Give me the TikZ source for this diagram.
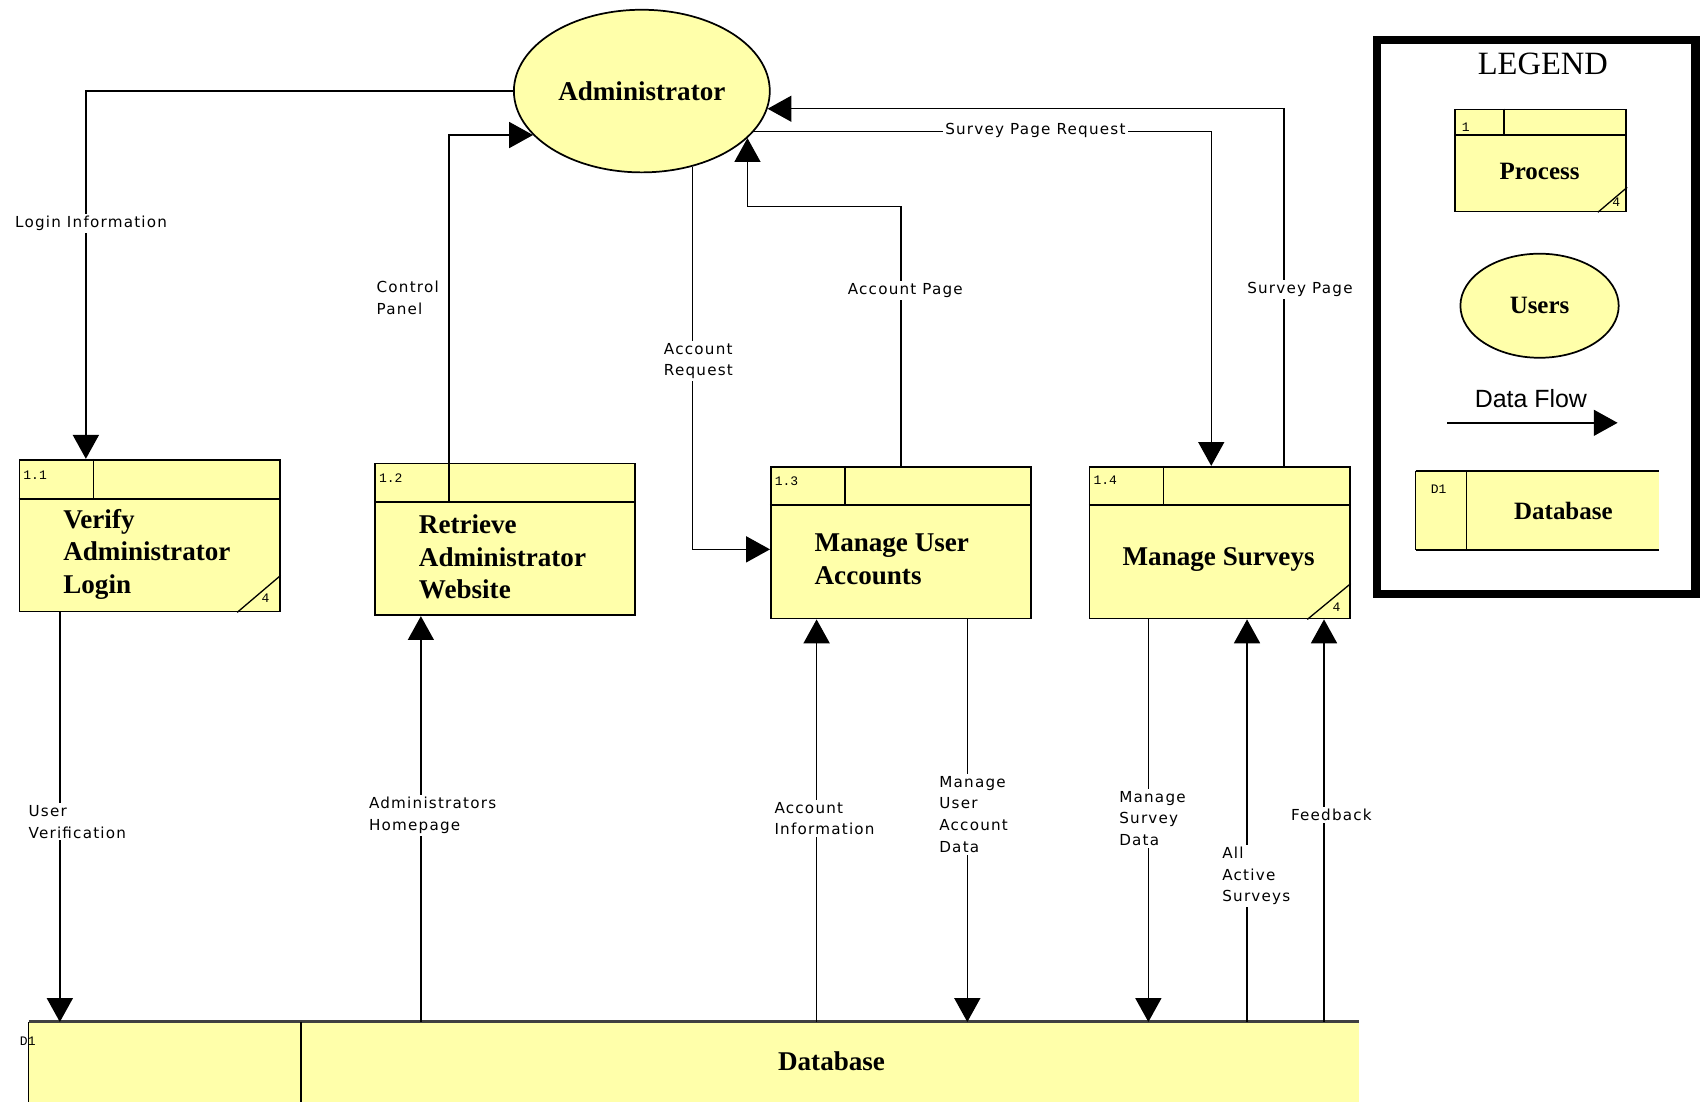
\documentclass[tikz,border=0pt]{standalone}
\usepackage{fontspec}
\setmainfont{Liberation Serif}
\newfontfamily\lblfont[LetterSpace=8]{DejaVu Sans}
\newfontfamily\dffont{Liberation Sans}
\newfontfamily\numfont{Liberation Mono}
\usetikzlibrary{arrows.meta}
\usetikzlibrary{shapes.geometric}
\usetikzlibrary{calc}
\definecolor{yel}{RGB}{255,255,170}

\tikzset{
  proc/.style={draw, fill=yel, line width=0.8pt, minimum width=120pt, minimum height=70pt, inner sep=0pt},
  user/.style={ellipse, draw, fill=yel, line width=0.8pt, inner sep=0pt},
  flow/.style={line width=0.65pt, -{Triangle[length=11pt,width=12pt]}},
  lbl/.style={font=\lblfont\fontsize{7}{10}\selectfont, fill=white, inner sep=1pt, align=left},
  ptitle/.style={font=\bfseries\fontsize{12.5}{15}\selectfont, align=left, inner sep=0pt},
  pnum/.style={font=\numfont\fontsize{6}{7}\selectfont, inner sep=0pt},
}

\begin{document}
\begin{tikzpicture}[x=0.5pt,y=0.5pt,yscale=-1]
\useasboundingbox (0,0) rectangle (1568,1016);

%Users: Administrator
\node[user, minimum width=118pt, minimum height=75pt, font=\bfseries\fontsize{12.5}{15}\selectfont] (adm) at (592,84) {Administrator};

%Processes
\node[proc] (p11) at (138,494) {};
\node[proc] (p12) at (466,497.5) {};
\node[proc] (p13) at (831,500.5) {};
\node[proc] (p14) at (1125,500.5) {};

%Process headers
\draw[line width=0.8pt] ($(p11.north west)+(0,37)$) -- ($(p11.north east)+(0,37)$);
\draw[line width=0.8pt] ($(p11.north west)+(69,0)$) -- ++(0,37);
\draw[line width=0.8pt] ($(p12.north west)+(0,36)$) -- ($(p12.north east)+(0,36)$);
\draw[line width=0.8pt] ($(p12.north west)+(69,0)$) -- ++(0,36);
\draw[line width=0.8pt] ($(p13.north west)+(0,36)$) -- ($(p13.north east)+(0,36)$);
\draw[line width=0.8pt] ($(p13.north west)+(69,0)$) -- ++(0,36);
\draw[line width=0.8pt] ($(p14.north west)+(0,36)$) -- ($(p14.north east)+(0,36)$);
\draw[line width=0.8pt] ($(p14.north west)+(69,0)$) -- ++(0,36);

%Corner marks
\draw[line width=0.6pt] ($(p11.south east)+(-40,0)$) -- ($(p11.south east)+(0,-34)$);
\draw[line width=0.6pt] ($(p14.south east)+(-40,0)$) -- ($(p14.south east)+(0,-33)$);
\node[pnum] (m11) at ($(p11.south east)+(-14,-13)$) {4};
\node[pnum] (m14) at ($(p14.south east)+(-13,-11)$) {4};

%Process numbers
\node[pnum, anchor=west] (n11) at ($(p11.north west)+(4,15)$) {1.1};
\node[pnum, anchor=west] (n12) at ($(p12.north west)+(4,14)$) {1.2};
\node[pnum, anchor=west] (n13) at ($(p13.north west)+(4,14)$) {1.3};
\node[pnum, anchor=west] (n14) at ($(p14.north west)+(4,13)$) {1.4};

%Process titles
\node[ptitle, anchor=west] (t11) at (58,511) {Verify\\Administrator\\Login};
\node[ptitle, anchor=west] (t12) at (386,514) {Retrieve\\Administrator\\Website};
\node[ptitle, anchor=west] (t13) at (751,516) {Manage User\\Accounts};
\node[ptitle] (t14) at (1124,516) {Manage Surveys};

%Data store: Database
\node[fill=yel, minimum width=613pt, minimum height=36.5pt, inner sep=0pt] (db) at (640,979.5) {};
\draw[line width=1.4pt, color=black!75] (db.north west) -- (db.north east);
\draw[line width=0.6pt] (db.north west) -- (db.south west);
\draw[line width=0.6pt] ($(db.north west)+(251,0)$) -- ($(db.south west)+(251,0)$);
\node[ptitle] (dbt) at (767,979) {Database};
\node[pnum, anchor=west] (dbn) at (18,960) {D1};

%Flow end points
\coordinate (li) at ($(p11.north west)+(62,0)$);
\coordinate (cp) at ($(p12.north west)+(69,0)$);
\coordinate (ar) at ($(p13.north west)+(0,77)$);
\coordinate (spr) at ($(p14.north west)+(113,0)$);
\coordinate (sp) at ($(p14.north west)+(180,0)$);
\coordinate (uv) at ($(p11.south west)+(38,0)$);
\coordinate (ah) at ($(p12.south west)+(43,0)$);
\coordinate (ai) at ($(p13.south west)+(43,0)$);
\coordinate (mua) at ($(p13.south west)+(182,0)$);
\coordinate (msd) at ($(p14.south west)+(55,0)$);
\coordinate (aas) at ($(p14.south west)+(146,0)$);
\coordinate (fb) at ($(p14.south west)+(217,0)$);

%Flows
\draw[flow] (adm.west) -| (li);
\draw[flow] (cp) |- (adm.202);
\draw[flow] (adm.304) |- (ar);
\draw[flow] (p13.north) -- ++(0,-239) -| (adm.336);
\draw[flow] (adm.340) -| (spr);
\draw[flow] (sp) |- (adm.352);
\draw[flow] (uv) -- (uv |- db.north);
\draw[flow] (ah |- db.north) -- (ah);
\draw[flow] (ai |- db.north) -- (ai);
\draw[flow] (mua) -- (mua |- db.north);
\draw[flow] (msd) -- (msd |- db.north);
\draw[flow] (aas |- db.north) -- (aas);
\draw[flow] (fb |- db.north) -- (fb);

%Flow labels
\node[lbl] (lli) at (84,206) {Login Information};
\node[lbl, anchor=west] (lcp) at (345,275) {Control\\Panel};
\node[lbl, anchor=west] (lar) at (610,333) {Account\\Request};
\node[lbl] (lap) at (835,268) {Account Page};
\node[lbl] (lspr) at (955,120) {Survey Page Request};
\node[lbl] (lsp) at (1199,267) {Survey Page};
\node[lbl, anchor=west] (luv) at (24,758) {User\\Verification};
\node[lbl, anchor=west] (lah) at (338,752) {Administrators\\Homepage};
\node[lbl, anchor=west] (lai) at (712,755) {Account\\Information};
\node[lbl, anchor=west] (lmua) at (864,751) {Manage\\User\\Account\\Data};
\node[lbl, anchor=west] (lmsd) at (1030,755) {Manage\\Survey\\Data};
\node[lbl, anchor=west] (laas) at (1125,808) {All\\Active\\Surveys};
\node[lbl] (lfb) at (1228,752) {Feedback};

%Legend
\draw[line width=4pt] (1270,37) rectangle (1564,548);
\node[font=\fontsize{15}{18}\selectfont, inner sep=0pt] (lgt) at (1423,59) {LEGEND};
\node[proc, minimum width=79pt, minimum height=47pt] (lp) at (1421,148) {};
\draw[line width=0.8pt] ($(lp.north west)+(0,24)$) -- ($(lp.north east)+(0,24)$);
\draw[line width=0.8pt] ($(lp.north west)+(46,0)$) -- ++(0,24);
\draw[line width=0.6pt] ($(lp.south east)+(-27,0)$) -- ($(lp.south east)+(0,-23)$);
\node[pnum] (lpm) at ($(lp.south east)+(-10,-9)$) {4};
\node[pnum] (lpn) at (1352,117) {1};
\node[font=\bfseries\fontsize{11.5}{14}\selectfont, inner sep=0pt] (lpt) at (1420,158) {Process};
\node[user, minimum width=73pt, minimum height=48pt, font=\bfseries\fontsize{11.5}{14}\selectfont] (lu) at (1420,282) {Users};
\node[font=\dffont\fontsize{11.5}{14}\selectfont, inner sep=0pt] (ldf) at (1412,368) {Data Flow};
\coordinate (dfa) at (1335,390);
\coordinate (dfb) at (1492,390);
\draw[flow] (dfa) -- (dfb);
\node[fill=yel, minimum width=112pt, minimum height=36pt, inner sep=0pt] (ld) at (1418,471) {};
\draw[line width=0.8pt] (ld.north west) -- (ld.north east);
\draw[line width=0.8pt] (ld.south west) -- (ld.south east);
\draw[line width=0.8pt] (ld.north west) -- (ld.south west);
\draw[line width=0.8pt] ($(ld.north west)+(47,0)$) -- ($(ld.south west)+(47,0)$);
\node[pnum] (ldn) at (1327,451) {D1};
\node[font=\bfseries\fontsize{11.5}{14}\selectfont, inner sep=0pt] (ldt) at (1442,471) {Database};

\end{tikzpicture}
\end{document}
